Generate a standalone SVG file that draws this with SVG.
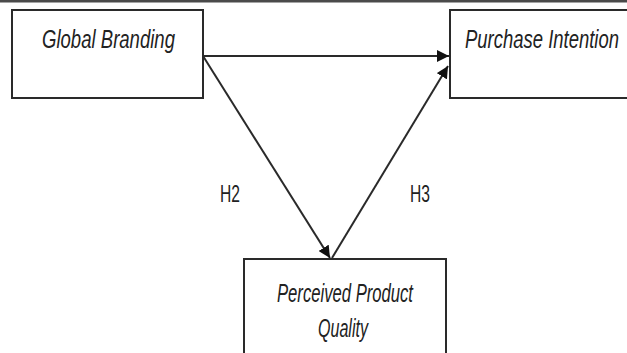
<svg xmlns="http://www.w3.org/2000/svg" width="627" height="353" viewBox="0 0 627 353">
<style>
.box{fill:#fff;stroke:#2a2a2a;stroke-width:2}
.lbl{font-family:"Liberation Sans",Arial,sans-serif;font-style:italic;font-size:26px;fill:#222}
.h{font-family:"Liberation Sans",Arial,sans-serif;font-size:24px;fill:#222}
.con{stroke:#2a2a2a;stroke-width:2;fill:none}
</style>
<defs>
<marker id="arr" viewBox="0 0 10 10" refX="10" refY="5" markerWidth="6" markerHeight="6" markerUnits="strokeWidth" orient="auto">
<path d="M0,0 L10,5 L0,10 z" fill="#111"/>
</marker>
</defs>
<rect x="0" y="0" width="627" height="353" fill="#fff"/>
<line x1="0" y1="1.3" x2="627" y2="1.3" stroke="#4a4a4a" stroke-width="2.6"/>
<g id="global-branding">
<rect class="box" x="12" y="10" width="191" height="88"/>
<text class="lbl" x="42" y="48" textLength="133" lengthAdjust="spacingAndGlyphs">Global Branding</text>
</g>
<g id="purchase-intention">
<rect class="box" x="450" y="10" width="190" height="88"/>
<text class="lbl" x="465" y="48" textLength="154" lengthAdjust="spacingAndGlyphs">Purchase Intention</text>
</g>
<g id="perceived-quality">
<rect class="box" x="244" y="259" width="202" height="110"/>
<text class="lbl" x="277" y="302" textLength="136" lengthAdjust="spacingAndGlyphs">Perceived Product</text>
<text class="lbl" x="318" y="337" textLength="50" lengthAdjust="spacingAndGlyphs">Quality</text>
</g>
<g id="connectors">
<line class="con" x1="203" y1="56" x2="449" y2="56" marker-end="url(#arr)"/>
<line class="con" x1="203" y1="56" x2="330" y2="258" marker-end="url(#arr)"/>
<line class="con" x1="332" y1="258" x2="448" y2="66" marker-end="url(#arr)"/>
<text class="h" x="220" y="202" textLength="20" lengthAdjust="spacingAndGlyphs">H2</text>
<text class="h" x="410" y="202" textLength="20" lengthAdjust="spacingAndGlyphs">H3</text>
</g>
</svg>
